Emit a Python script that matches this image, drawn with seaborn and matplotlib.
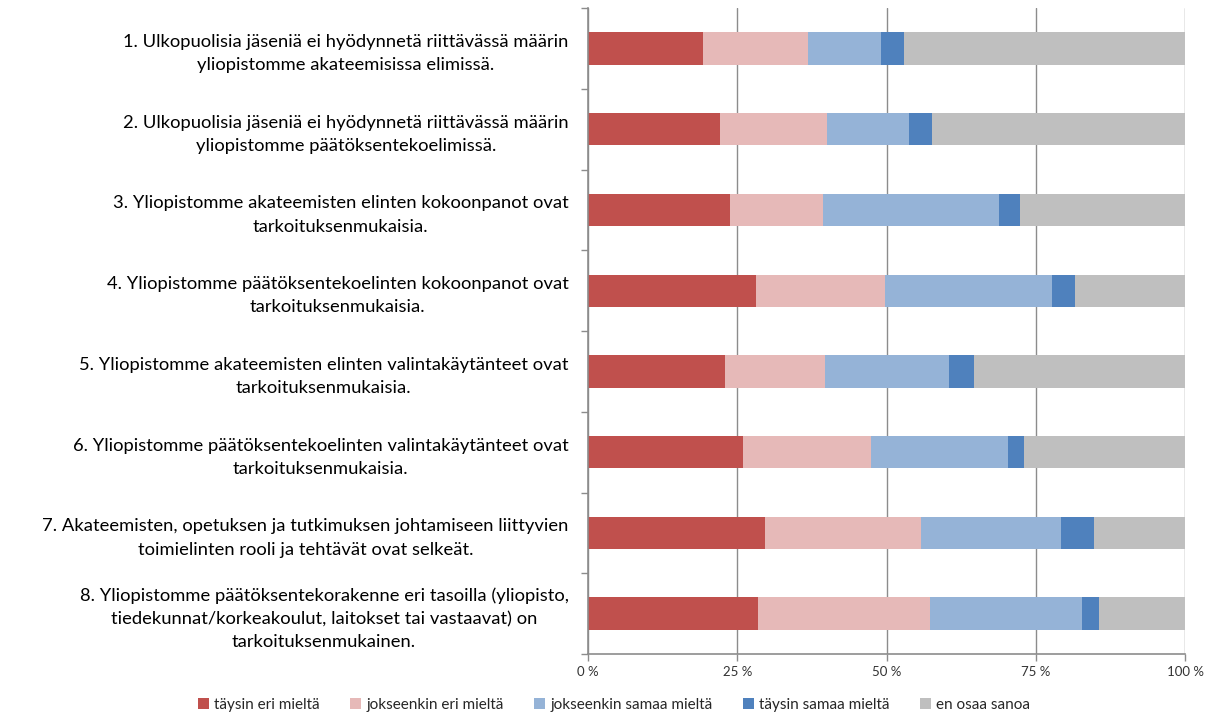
import matplotlib.pyplot as plt
import seaborn as sns
import numpy as np
import pandas as pd
from matplotlib.ticker import FixedLocator

# statements (y axis)
statements = [
    "1. Ulkopuolisia jäseniä ei hyödynnetä riittävässä määrin\nyliopistomme akateemisissa elimissä.",
    "2. Ulkopuolisia jäseniä ei hyödynnetä riittävässä määrin\nyliopistomme päätöksentekoelimissä.",
    "3. Yliopistomme akateemisten elinten kokoonpanot ovat\ntarkoituksenmukaisia.",
    "4. Yliopistomme päätöksentekoelinten kokoonpanot ovat\ntarkoituksenmukaisia.",
    "5. Yliopistomme akateemisten elinten valintakäytänteet ovat\ntarkoituksenmukaisia.",
    "6. Yliopistomme päätöksentekoelinten valintakäytänteet ovat\ntarkoituksenmukaisia.",
    "7. Akateemisten, opetuksen ja tutkimuksen johtamiseen liittyvien\ntoimielinten rooli ja tehtävät ovat selkeät.",
    "8. Yliopistomme päätöksentekorakenne eri tasoilla (yliopisto,\ntiedekunnat/korkeakoulut, laitokset tai vastaavat) on\ntarkoituksenmukainen.",
]

answers = ["täysin eri mieltä", "jokseenkin eri mieltä", "jokseenkin samaa mieltä",
           "täysin samaa mieltä", "en osaa sanoa"]
colors = ["#C0504D", "#E6B9B8", "#95B3D7", "#4F81BD", "#BFBFBF"]

# shares in percent, one list per answer
taysin_eri = [19.2, 22.1, 23.7, 28.1, 23.0, 25.9, 29.6, 28.5]
jokseenkin_eri = [17.7, 18.0, 15.6, 21.6, 16.7, 21.5, 26.1, 28.7]
jokseenkin_samaa = [12.1, 13.6, 29.5, 28.0, 20.8, 22.9, 23.5, 25.6]
taysin_samaa = [3.9, 3.9, 3.5, 3.9, 4.1, 2.8, 5.5, 2.8]
en_osaa = [47.1, 42.4, 27.7, 18.4, 35.4, 26.9, 15.3, 14.4]

df = pd.DataFrame({
    "statement": statements,
    answers[0]: taysin_eri,
    answers[1]: jokseenkin_eri,
    answers[2]: jokseenkin_samaa,
    answers[3]: taysin_samaa,
    answers[4]: en_osaa,
})
shares = df[answers]
shares = shares.div(shares.sum(axis=1), axis=0) * 100
cum = shares.cumsum(axis=1)

sns.set_style("white")
plt.rcParams["font.family"] = ["Lato", "DejaVu Sans"]

fig = plt.figure(figsize=(12.11, 7.16), dpi=100)
ax = fig.add_axes([0.4856, 0.0866, 0.493, 0.902])

# draw cumulative layers from the widest to the narrowest
for ans, col in reversed(list(zip(answers, colors))):
    sns.barplot(x=cum[ans], y=df["statement"], color=col, orient="h",
                width=0.4, label=ans, linewidth=0, saturation=1, ax=ax)

ax.set_xlim(0, 100)
ax.set_ylim(len(statements) - 0.5, -0.5)
ax.set_xticks([0, 25, 50, 75, 100])
ax.set_xticklabels([f"{v} %" for v in [0, 25, 50, 75, 100]], fontsize=9.5, color="#333333")
ax.set_xlabel("")
ax.set_ylabel("")

ax.set_axisbelow(True)
ax.grid(axis="x", color="#8C8C8C", linewidth=1)
ax.grid(axis="y", visible=False)

for s in ["top", "right"]:
    ax.spines[s].set_visible(False)
for s in ["left", "bottom"]:
    ax.spines[s].set_color("#8C8C8C")
    ax.spines[s].set_linewidth(1.2)

ax.tick_params(axis="y", which="major", length=0, pad=14, labelsize=13.2, labelcolor="black")
ax.yaxis.set_minor_locator(FixedLocator(np.arange(-0.5, len(statements) + 0.5, 1)))
ax.tick_params(axis="y", which="minor", length=5, color="#8C8C8C", width=1, left=True)
ax.tick_params(axis="x", which="major", length=5, color="#8C8C8C", width=1, bottom=True, pad=4)
for t in ax.get_yticklabels():
    t.set_multialignment("center")
    t.set_linespacing(1.55)

handles, labels = ax.get_legend_handles_labels()
order = [labels.index(a) for a in answers]
if ax.get_legend():
    ax.get_legend().remove()
fig.legend([handles[i] for i in order], answers, loc="center", ncol=5,
           bbox_to_anchor=(0.507, 0.016), frameon=False, fontsize=11,
           handlelength=0.7, handleheight=0.7, handletextpad=0.35, columnspacing=2.0)

fig.savefig("out.png", dpi=100)
